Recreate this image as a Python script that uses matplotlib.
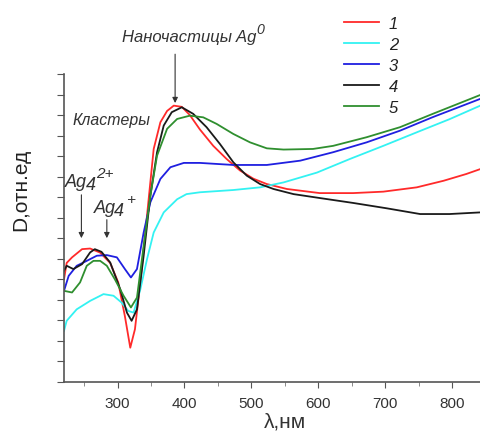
#------------------------------------------------------------------------------------------------------------------
#   Absorption spectra of silver clusters / nanoparticles
#------------------------------------------------------------------------------------------------------------------

import numpy as np
import matplotlib.pyplot as plt
from matplotlib.ticker import MultipleLocator

#------------------------------------------------------------------------------------------------------------------
#   Data (D in relative units)
#------------------------------------------------------------------------------------------------------------------
wl_1 = [220, 224, 232, 247, 259, 274, 289, 301, 311, 319, 326, 334, 344, 354, 364, 374, 384, 396, 408,
        423, 443, 463, 483, 503, 523, 553, 602, 652, 697, 747, 787, 821, 842]
d_1 = [5.0, 5.8, 6.07, 6.47, 6.5, 6.3, 5.8, 4.85, 3.2, 1.67, 2.57, 4.85, 8.1, 11.35, 12.65, 13.2, 13.46,
       13.4, 13.0, 12.3, 11.5, 10.86, 10.3, 9.9, 9.64, 9.4, 9.2, 9.2, 9.27, 9.48, 9.8, 10.13, 10.37]

wl_2 = [220, 224, 239, 259, 279, 294, 306, 316, 324, 334, 344, 354, 369, 389, 403, 423, 473, 513, 548,
        598, 647, 697, 747, 796, 842]
d_2 = [2.49, 2.98, 3.54, 3.95, 4.28, 4.2, 3.87, 3.46, 3.38, 4.5, 5.98, 7.28, 8.26, 8.9, 9.15, 9.24, 9.35,
       9.48, 9.72, 10.2, 10.86, 11.5, 12.16, 12.8, 13.46]

wl_3 = [220, 227, 239, 254, 269, 284, 299, 311, 320, 329, 339, 349, 364, 379, 399, 423, 473, 523, 573,
        622, 672, 722, 771, 842]
d_3 = [4.44, 5.17, 5.66, 5.9, 6.15, 6.18, 6.07, 5.5, 5.09, 5.5, 7.28, 8.75, 9.89, 10.46, 10.67, 10.67,
       10.57, 10.57, 10.78, 11.19, 11.67, 12.24, 12.9, 13.79]

wl_4 = [220, 224, 234, 247, 259, 266, 276, 289, 304, 314, 321, 329, 339, 349, 359, 369, 381, 396, 413,
        433, 453, 473, 493, 513, 533, 563, 602, 652, 702, 752, 796, 842]
d_4 = [5.41, 5.66, 5.5, 5.74, 6.31, 6.47, 6.34, 5.82, 4.52, 3.38, 2.98, 3.54, 6.15, 9.07, 11.19, 12.49,
       13.14, 13.38, 13.06, 12.41, 11.59, 10.7, 10.05, 9.64, 9.4, 9.15, 8.96, 8.72, 8.46, 8.18, 8.18, 8.26]

wl_5 = [220, 232, 244, 254, 264, 274, 284, 296, 309, 320, 329, 339, 349, 359, 374, 389, 408, 428, 448,
        473, 498, 523, 548, 592, 622, 672, 722, 771, 842]
d_5 = [4.44, 4.36, 4.85, 5.66, 5.9, 5.9, 5.66, 5.0, 4.2, 3.63, 4.11, 6.63, 9.07, 11.02, 12.33, 12.81,
       12.97, 12.89, 12.57, 12.08, 11.67, 11.38, 11.32, 11.35, 11.5, 11.92, 12.41, 13.06, 13.98]

labels = ['1', '2', '3', '4', '5']
colors = ['#ff2a2a', '#33f2f2', '#1f1fe0', '#1a1a1a', '#2f8f2f']

#------------------------------------------------------------------------------------------------------------------
#   Figure
#------------------------------------------------------------------------------------------------------------------
plt.rcParams['font.family'] = ['Liberation Sans', 'DejaVu Sans']

fig = plt.figure(figsize=(4.81, 4.39), dpi=100)
ax = fig.add_axes([64/481, 56/439, 1 - 64/481, 308/439])

series = [(wl_1, d_1), (wl_2, d_2), (wl_3, d_3), (wl_4, d_4), (wl_5, d_5)]
for (wl, d), lab, c in zip(series, labels, colors):
    ax.plot(wl, d, color=c, lw=1.3, label=lab)

ax.set_xlim(220, 843)
ax.set_ylim(0, 15)

ax.xaxis.set_major_locator(MultipleLocator(100))
ax.xaxis.set_minor_locator(MultipleLocator(50))
ax.yaxis.set_major_locator(MultipleLocator(1))
ax.set_yticklabels([])
ax.tick_params(axis='x', which='major', length=4, color='#555555', labelsize=11, labelcolor='#333333', pad=6)
ax.tick_params(axis='x', which='minor', length=3, color='#777777')
ax.tick_params(axis='y', length=5, color='#555555')

for s in ['top', 'right']:
    ax.spines[s].set_visible(False)
for s in ['left', 'bottom']:
    ax.spines[s].set_color('#555555')
    ax.spines[s].set_linewidth(1.2)

ax.set_xlabel('λ,нм', fontsize=15, color='#333333')
ax.xaxis.set_label_coords(0.53, -0.097)
ax.set_ylabel('D,отн.ед', fontsize=15, color='#222222')
ax.yaxis.set_label_coords(-0.082, 0.627)

#------------------------------------------------------------------------------------------------------------------
#   Annotations
#------------------------------------------------------------------------------------------------------------------
arrow = dict(arrowstyle='-|>', color='#333333', lw=0.8, mutation_scale=8)
tcol = '#333333'

def label_with_scripts(x, y, base, sub, sup, size, sup_dx=0):
    # base text, then a near full size subscript and superscript chained after it
    t = ax.text(x, y, base, fontsize=size, style='italic', color=tcol, va='baseline', clip_on=False)
    if sub:
        ax.annotate(sub, xy=(1, 0), xycoords=t, xytext=(-1, -2.5), textcoords='offset points',
                    fontsize=size, style='italic', color=tcol, ha='left', va='bottom')
    ax.annotate(sup, xy=(1, 1), xycoords=t, xytext=(sup_dx, -5), textcoords='offset points',
                fontsize=size * 0.85, style='italic', color=tcol, ha='left', va='bottom')

ax.annotate('', xy=(386, 13.45), xytext=(386, 16.1), arrowprops=arrow, annotation_clip=False)
label_with_scripts(306, 16.6, 'Наночастицы Ag', None, '0', 12)

ax.text(232, 12.8, 'Кластеры', fontsize=11.4, style='italic', color=tcol, va='center')

ax.annotate('', xy=(246, 6.87), xytext=(246, 9.25), arrowprops=arrow)
label_with_scripts(222, 9.55, 'Ag', '4', '2+', 13, sup_dx=6.5)

ax.annotate('', xy=(284, 6.87), xytext=(284, 8.04), arrowprops=arrow)
label_with_scripts(264, 8.28, 'Ag', '4', '+', 13, sup_dx=7.5)

leg = ax.legend(loc='upper left', bbox_to_anchor=(329/481, 1 - 2/439), bbox_transform=fig.transFigure,
                frameon=False, handlelength=2.1, handletextpad=0.6, labelspacing=0.36,
                prop={'size': 12, 'style': 'italic'})
for t in leg.get_texts():
    t.set_color('#222222')

fig.savefig('out.png', dpi=100)
